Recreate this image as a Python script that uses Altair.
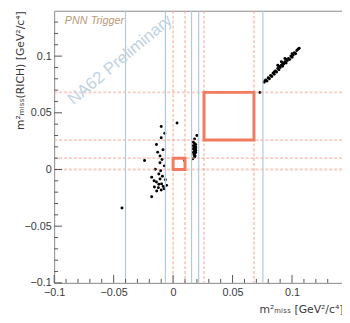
import altair as alt
import pandas as pd

X_DOMAIN = [-0.1, 0.142]
Y_DOMAIN = [-0.1, 0.14]
W, H = 293, 277

# --- events: left cluster
left_x = [-0.010, -0.007, -0.010, -0.014, -0.0085, -0.013, -0.024, -0.0093, -0.011, -0.0074,
          -0.015, -0.0105, -0.018, -0.011, -0.014, -0.0097, -0.0157, -0.0124, -0.0083, -0.0055,
          -0.0138, -0.010, -0.018, -0.012, -0.009, -0.016, -0.0065, -0.012, -0.0075, -0.011,
          -0.043, 0.0033, 0.0097]
left_y = [0.038, 0.032, 0.028, 0.022, 0.0175, 0.0153, 0.008, 0.0089, 0.006, 0.0032,
          0.0003, -0.0011, -0.0069, -0.0084, -0.011, -0.0127, -0.0155, -0.016, -0.0149, -0.014,
          -0.019, -0.018, -0.024, -0.004, -0.006, -0.010, -0.009, -0.013, -0.017, 0.012,
          -0.034, 0.041, 0.008]
# --- events: K -> pi pi0 peak
mid_x = [0.020, 0.018, 0.017, 0.018, 0.019, 0.017, 0.018, 0.019, 0.017, 0.018, 0.019,
         0.018, 0.017, 0.019, 0.018, 0.0175, 0.0185, 0.018, 0.0165, 0.019, 0.0175, 0.0185]
mid_y = [0.030, 0.027, 0.024, 0.023, 0.022, 0.021, 0.020, 0.019, 0.018, 0.017, 0.017,
         0.016, 0.015, 0.015, 0.014, 0.013, 0.012, 0.011, 0.0095, 0.020, 0.019, 0.0155]
# --- events: diagonal band
diag_x = [0.073, 0.0765, 0.077, 0.078, 0.079, 0.080, 0.081, 0.082, 0.083, 0.084, 0.085,
          0.085, 0.086, 0.087, 0.088, 0.089, 0.089, 0.090, 0.091, 0.092, 0.092, 0.093,
          0.094, 0.095, 0.095, 0.096, 0.097, 0.098, 0.099, 0.100, 0.100, 0.101, 0.102,
          0.103, 0.104, 0.105, 0.106, 0.088, 0.091, 0.094]
diag_y = [0.068, 0.077, 0.078, 0.079, 0.078, 0.081, 0.080, 0.083, 0.082, 0.085, 0.084,
          0.086, 0.087, 0.086, 0.089, 0.088, 0.091, 0.090, 0.092, 0.091, 0.094, 0.093,
          0.095, 0.094, 0.097, 0.096, 0.098, 0.097, 0.100, 0.099, 0.102, 0.101, 0.103,
          0.102, 0.105, 0.106, 0.107, 0.092, 0.095, 0.098]

# reference lines
blue_lines = [-0.040, -0.0065, 0.0155, 0.0215, 0.0755]
region_bounds = [0.0, 0.01, 0.026, 0.068]
box_x1 = [0.0, 0.026]
box_x2 = [0.01, 0.068]
box_y1 = [0.0, 0.026]
box_y2 = [0.01, 0.068]

major_ticks = [-0.1, -0.05, 0.0, 0.05, 0.1]
minor_ticks = [-0.09, -0.08, -0.07, -0.06, -0.04, -0.03, -0.02, -0.01,
               0.01, 0.02, 0.03, 0.04, 0.06, 0.07, 0.08, 0.09, 0.11, 0.12, 0.13]

pts = pd.DataFrame({"x": left_x + mid_x + diag_x, "y": left_y + mid_y + diag_y})

xs = alt.Scale(domain=X_DOMAIN, nice=False, zero=False)
ys = alt.Scale(domain=Y_DOMAIN, nice=False, zero=False)

x_axis = alt.Axis(values=major_ticks, format="~g", ticks=False, domain=False, grid=False,
                  labelFlush=False, labelOverlap=False,
                  title="m²ₘᵢₛₛ [GeV²/c⁴]", titleAnchor="end", titleAlign="right",
                  titleX=W + 1, titleY=30, titleBaseline="alphabetic",
                  labelPadding=4)
y_axis = alt.Axis(values=major_ticks, format="~g", ticks=False, domain=False, grid=False,
                  labelFlush=False, labelOverlap=False,
                  title="m²ₘᵢₛₛ(RICH) [GeV²/c⁴]", titleAnchor="end", titleAlign="right",
                  titleAngle=270, titleX=-29, titleY=0, titleBaseline="bottom",
                  labelPadding=3)


def X(field="x"):
    return alt.X(f"{field}:Q", scale=xs, axis=x_axis)


def Y(field="y"):
    return alt.Y(f"{field}:Q", scale=ys, axis=y_axis)


points = alt.Chart(pts).mark_circle(size=9, color="black", opacity=1).encode(x=X(), y=Y())

blue = alt.Chart(pd.DataFrame({"x": blue_lines})).mark_rule(
    color="#b3c8d8", strokeWidth=1.2).encode(x=X())

red_v = alt.Chart(pd.DataFrame({"x": region_bounds})).mark_rule(
    color="#f5a898", strokeWidth=1.8, strokeDash=[3, 2], opacity=0.6
).encode(x=X())
red_h = alt.Chart(pd.DataFrame({"y": region_bounds})).mark_rule(
    color="#f5a898", strokeWidth=1.8, strokeDash=[3, 2], opacity=0.6
).encode(y=Y())

boxes = alt.Chart(pd.DataFrame({"x": box_x1, "x2": box_x2, "y": box_y1, "y2": box_y2})).mark_rect(
    filled=False, stroke="#f27a5e", strokeWidth=3
).encode(x=X(), x2="x2:Q", y=Y(), y2="y2:Q")

tick_color = "#555555"
xt_major = alt.Chart(pd.DataFrame({"x": major_ticks})).mark_rule(color=tick_color).encode(
    x=X(), y=alt.value(H), y2=alt.value(H - 8))
xt_minor = alt.Chart(pd.DataFrame({"x": minor_ticks})).mark_rule(color=tick_color).encode(
    x=X(), y=alt.value(H), y2=alt.value(H - 4))
yt_major = alt.Chart(pd.DataFrame({"y": major_ticks})).mark_rule(color=tick_color).encode(
    y=Y(), x=alt.value(0), x2=alt.value(8))
yt_minor = alt.Chart(pd.DataFrame({"y": minor_ticks})).mark_rule(color=tick_color).encode(
    y=Y(), x=alt.value(0), x2=alt.value(4))

trig = alt.Chart(pd.DataFrame({"x": [-0.091], "y": [0.131], "t": ["PNN Trigger"]})).mark_text(
    align="left", baseline="middle", fontStyle="italic", font="Liberation Sans",
    fontSize=11, color="#b89a7a"
).encode(x=X(), y=Y(), text="t:N")

prelim = alt.Chart(pd.DataFrame({"x": [-0.0445], "y": [0.0965], "t": ["NA62 Preliminary"]})).mark_text(
    align="center", baseline="middle", angle=320, font="Liberation Sans",
    fontSize=17, color="#bfd2e3"
).encode(x=X(), y=Y(), text="t:N")

chart = alt.layer(
    points, red_v, red_h, blue, boxes, prelim, trig, xt_major, xt_minor, yt_major, yt_minor
).properties(
    width=W, height=H,
    autosize=alt.AutoSizeParams(type="none"),
    padding={"left": 47, "top": 0, "right": 0, "bottom": 36},
    background="white",
).configure_view(
    stroke="#888888", strokeWidth=1
).configure_axis(
    labelFont="Liberation Sans", labelFontSize=11, labelColor="#3a3a3a",
    titleFont="DejaVu Sans", titleFontSize=11, titleFontWeight="normal", titleColor="#3a3a3a",
)

chart.save("out.html", embed_options={"renderer": "svg", "actions": False})
